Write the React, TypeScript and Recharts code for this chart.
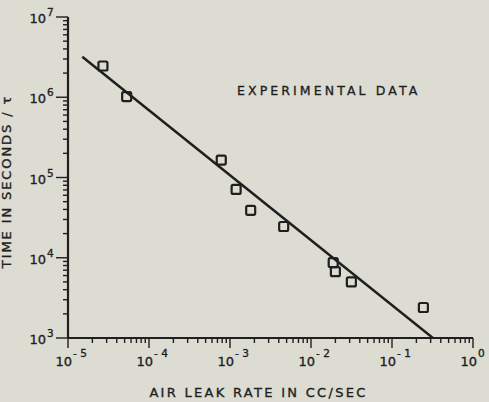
import { Label, Scatter, ScatterChart, XAxis, YAxis } from "recharts";

// leak rate (cc/sec) vs. time (seconds), one square per measurement
const leakRate = [2.7e-5, 5.3e-5, 7.8e-4, 1.19e-3, 1.8e-3, 4.6e-3, 1.88e-2, 2.0e-2, 3.15e-2, 0.244];
const timeSec = [2.45e6, 1.02e6, 1.65e5, 7.1e4, 3.9e4, 2.45e4, 8.7e3, 6.7e3, 5.0e3, 2.4e3];

// ends of the fitted straight line on the log-log plot
const fitRate = [1.5e-5, 0.32];
const fitTime = [3.2e6, 1e3];

// decade exponents shown as tick labels
const xDecades = [-5, -4, -3, -2, -1, 0];
const yDecades = [3, 4, 5, 6, 7];

const INK = "#1f1f1f";
const PAPER = "#dcdcd3";
const FONT = "'DejaVu Sans', sans-serif";

const points = leakRate.map((x, i) => ({ x, y: timeSec[i] }));
const fit = fitRate.map((x, i) => ({ x, y: fitTime[i] }));

// 1..9 x 10^n for every decade, the last decade only gets its 10^n
function logTicks(decades: number[]) {
  const out: number[] = [];
  decades.forEach((d, i) => {
    const last = i === decades.length - 1;
    for (let m = 1; m <= (last ? 1 : 9); m++) out.push(m * Math.pow(10, d));
  });
  return out;
}

function isDecade(v: number) {
  const l = Math.log10(v);
  return Math.abs(l - Math.round(l)) < 1e-6;
}

const labelText = { fontFamily: FONT, fill: INK, stroke: INK, strokeWidth: 0.35 };

function XTick(props: any) {
  const x = Number(props.x);
  const y = Number(props.y);
  const v = Number(props.payload.value);
  const major = isDecade(v);
  const exp = Math.round(Math.log10(v));
  return (
    <g>
      <path d={`M${x},${y}V${y + (major ? 10 : 5)}`} stroke={INK} strokeWidth={1.4} fill="none" />
      {major && (
        <text {...labelText}>
          <tspan x={x + 4} y={y + 28} fontSize={13} textAnchor="end">10</tspan>
          <tspan x={x + 5} y={y + 19} fontSize={10.5} textAnchor="start">
            {exp === 0 ? "0" : `- ${Math.abs(exp)}`}
          </tspan>
        </text>
      )}
    </g>
  );
}

function YTick(props: any) {
  const x = Number(props.x);
  const y = Number(props.y);
  const v = Number(props.payload.value);
  const major = isDecade(v);
  const exp = Math.round(Math.log10(v));
  return (
    <g>
      <path d={`M${x},${y}H${x - (major ? 12 : 5)}`} stroke={INK} strokeWidth={1.4} fill="none" />
      {major && (
        <text {...labelText}>
          <tspan x={x - 22} y={y + 6} fontSize={13} textAnchor="end">10</tspan>
          <tspan x={x - 21} y={y - 1} fontSize={10.5} textAnchor="start">{exp}</tspan>
        </text>
      )}
    </g>
  );
}

function Square({ cx, cy }: any) {
  return (
    <rect x={cx - 4.5} y={cy - 4.5} width={9} height={9} rx={1.5} fill="none" stroke={INK} strokeWidth={2.2} />
  );
}

export default function App() {
  return (
    <div style={{ position: "absolute", left: 0, top: 0, width: 489, height: 402, background: PAPER }}>
      <ScatterChart width={489} height={402} margin={{ top: 17, right: 16, left: 0, bottom: 0 }}>
        <XAxis
          dataKey="x"
          type="number"
          scale="log"
          domain={[1e-5, 1]}
          allowDataOverflow
          ticks={logTicks(xDecades)}
          interval={0}
          tickSize={0}
          tickMargin={0}
          tickLine={false}
          tick={<XTick />}
          axisLine={{ stroke: INK, strokeWidth: 2.2 }}
          height={64}
        >
          <Label
            value="AIR LEAK RATE IN CC/SEC"
            position="insideBottom"
            offset={5}
            dx={-12}
            fill={INK}
            stroke={INK}
            strokeWidth={0.35}
            fontSize={13}
            fontFamily={FONT}
            letterSpacing={2.3}
          />
        </XAxis>
        <YAxis
          dataKey="y"
          type="number"
          scale="log"
          domain={[1e3, 1e7]}
          allowDataOverflow
          ticks={logTicks(yDecades)}
          interval={0}
          tickSize={0}
          tickMargin={0}
          tickLine={false}
          tick={<YTick />}
          axisLine={{ stroke: INK, strokeWidth: 2.2 }}
          width={68}
        >
          <Label
            value="TIME IN SECONDS / τ"
            angle={-90}
            position="insideLeft"
            offset={6}
            dy={4}
            fill={INK}
            stroke={INK}
            strokeWidth={0.35}
            fontSize={13}
            fontFamily={FONT}
            letterSpacing={1.9}
            style={{ textAnchor: "middle" }}
          />
        </YAxis>
        <Scatter
          data={fit}
          line={{ stroke: INK, strokeWidth: 2.5 }}
          shape={() => <g />}
          isAnimationActive={false}
        />
        <Scatter data={points} shape={<Square />} isAnimationActive={false} />
      </ScatterChart>
      <div
        style={{
          position: "absolute",
          left: 237,
          top: 83,
          fontFamily: FONT,
          fontSize: 12.5,
          letterSpacing: 3.1,
          color: INK,
          WebkitTextStroke: `0.35px ${INK}`,
          whiteSpace: "nowrap",
        }}
      >
        EXPERIMENTAL DATA
      </div>
    </div>
  );
}
